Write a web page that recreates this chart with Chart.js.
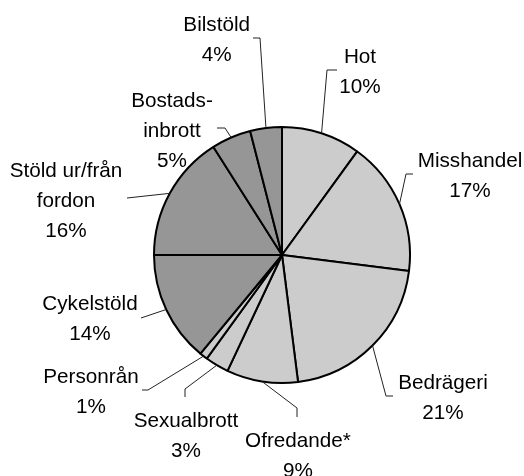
<!DOCTYPE html>
<html>
<head>
<meta charset="utf-8">
<script src="https://cdn.jsdelivr.net/npm/chart.js@4.4.1/dist/chart.umd.min.js"></script>
<style>
  html, body { margin: 0; padding: 0; background: #ffffff; }
  #c { display: block; }
</style>
</head>
<body>
<canvas id="c" width="524" height="476"></canvas>
<script>
// ---- Data ----
const categories = [
  ["Hot"],
  ["Misshandel"],
  ["Bedrägeri"],
  ["Ofredande*"],
  ["Sexualbrott"],
  ["Personrån"],
  ["Cykelstöld"],
  ["Stöld ur/från", "fordon"],
  ["Bostads-", "inbrott"],
  ["Bilstöld"]
];
const shares = [10, 17, 21, 9, 3, 1, 14, 16, 5, 4];
const groups = ["light", "light", "light", "light", "light", "light", "dark", "dark", "dark", "dark"];

// ---- Layout (styling only) ----
const groupColors = { light: "#cccccc", dark: "#969696" };
// text centre x and first baseline y for each label
const labelAnchors = [
  [360, 62.7], [470, 166.7], [443, 389.3], [298, 446.7], [186, 426.7],
  [91, 383.3], [90, 310], [66, 176.7], [172, 106.7], [216.7, 30.7]
];
// leader line points from label side towards the slice (the last point is added from the arc)
const leaderPaths = [
  [[337, 70], [327, 70]],
  [[413, 174], [406, 174]],
  [[393, 396], [386, 396]],
  [[297, 417], [297, 408]],
  [[185, 397], [185, 389]],
  [[142, 390], [148, 390]],
  [[141, 318]],
  [[127, 198]],
  [[217, 128], [225, 128]],
  [[253, 38], [260, 38]]
];
const lineHeight = 30;
const fontSpec = "20.7px 'Liberation Sans', Arial, Helvetica, sans-serif";

const labelPlugin = {
  id: "pieLabels",
  afterDraw(chart) {
    const ctx = chart.ctx;
    const meta = chart.getDatasetMeta(0);
    ctx.save();
    meta.data.forEach((el, i) => {
      const p = el.getProps(["x", "y", "startAngle", "endAngle", "outerRadius"], true);
      const mid = (p.startAngle + p.endAngle) / 2;
      const ax = p.x + Math.cos(mid) * p.outerRadius;
      const ay = p.y + Math.sin(mid) * p.outerRadius;
      const pts = leaderPaths[i].concat([[ax, ay]]);
      ctx.beginPath();
      ctx.strokeStyle = "#222222";
      ctx.lineWidth = 1;
      ctx.moveTo(pts[0][0], pts[0][1]);
      for (let k = 1; k < pts.length; k++) ctx.lineTo(pts[k][0], pts[k][1]);
      ctx.stroke();

      const lines = categories[i].concat([shares[i] + "%"]);
      ctx.fillStyle = "#000000";
      ctx.font = fontSpec;
      ctx.textAlign = "center";
      ctx.textBaseline = "alphabetic";
      lines.forEach((t, j) => {
        ctx.fillText(t, labelAnchors[i][0], labelAnchors[i][1] + j * lineHeight);
      });
    });
    ctx.restore();
  }
};

new Chart(document.getElementById("c"), {
  type: "pie",
  data: {
    labels: categories.map(c => c.join(" ")),
    datasets: [{
      data: shares,
      backgroundColor: groups.map(g => groupColors[g]),
      borderColor: "#000000",
      borderWidth: 2,
      hoverOffset: 0
    }]
  },
  options: {
    responsive: false,
    animation: false,
    radius: 128,
    layout: { padding: { left: 60, right: 20, top: 54, bottom: 20 } },
    plugins: {
      legend: { display: false },
      tooltip: { enabled: false }
    },
    events: []
  },
  plugins: [labelPlugin]
});
</script>
</body>
</html>
